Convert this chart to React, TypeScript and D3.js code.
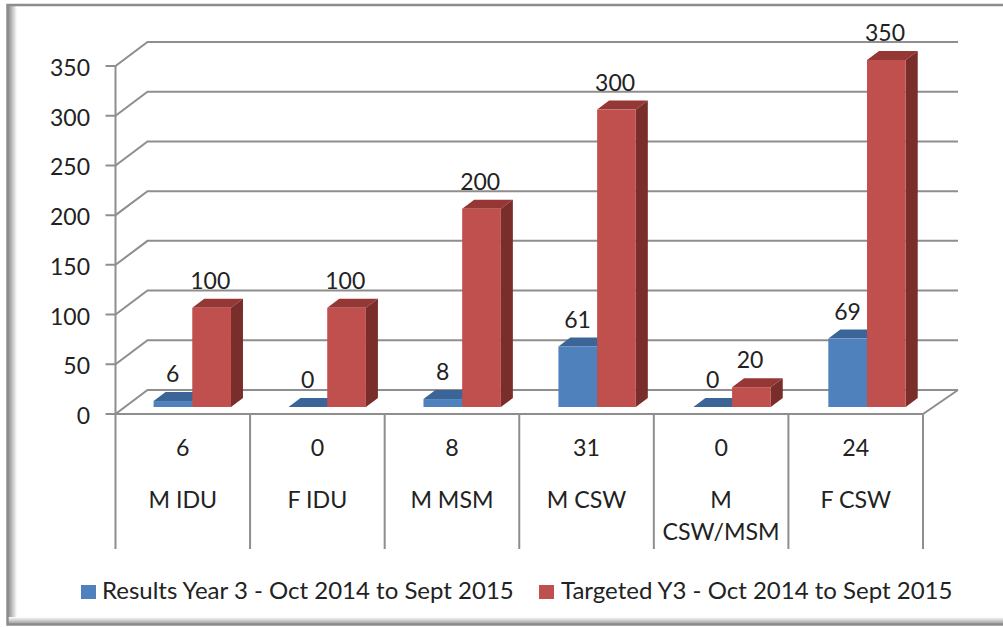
import React, { useRef, useEffect } from "react";
import * as d3 from "d3";

const categories = ["M IDU", "F IDU", "M MSM", "M CSW", "M CSW/MSM", "F CSW"];
const tableValues = ["6", "0", "8", "31", "0", "24"];
const results = [6, 0, 8, 61, 0, 69];
const targets = [100, 100, 200, 300, 20, 350];
const yTicks = [0, 50, 100, 150, 200, 250, 300, 350];
const seriesNames = [
  "Results Year 3 - Oct 2014 to Sept 2015",
  "Targeted Y3 - Oct 2014 to Sept 2015",
];

const W = 1003;
const H = 627;
const FONT = "Lato, 'Open Sans', sans-serif";
const TEXT = "#222222";
const GRID = "#8e8e8e";
const BLUE = { front: "#4f81bd", top: "#3a6596", side: "#315a86" };
const RED = { front: "#c0504d", top: "#953735", side: "#7a2e2c" };

const App = () => {
  const ref = useRef<SVGSVGElement>(null);

  useEffect(() => {
    const svg = d3.select(ref.current);
    svg.selectAll("*").remove();

    const defs = svg.append("defs");
    const leftShade = defs.append("linearGradient").attr("id", "leftShade");
    leftShade.append("stop").attr("offset", 0).attr("stop-color", "#8a8a8a");
    leftShade.append("stop").attr("offset", 1).attr("stop-color", "#ffffff");
    const bottomShade = defs
      .append("linearGradient")
      .attr("id", "bottomShade")
      .attr("x1", 0)
      .attr("x2", 0)
      .attr("y1", 0)
      .attr("y2", 1);
    bottomShade.append("stop").attr("offset", 0).attr("stop-color", "#ffffff");
    bottomShade.append("stop").attr("offset", 1).attr("stop-color", "#9a9a9a");

    // frame
    svg.append("rect").attr("width", W).attr("height", H).attr("fill", "#ffffff");
    svg.append("rect").attr("x", 8).attr("y", 5).attr("width", 9).attr("height", 619).attr("fill", "url(#leftShade)");
    svg.append("rect").attr("x", 8).attr("y", 617).attr("width", 995).attr("height", 7).attr("fill", "url(#bottomShade)");
    svg.append("path")
      .attr("d", `M${W},5H7.5V624.5H${W}`)
      .attr("fill", "none")
      .attr("stroke", "#8c8c8c")
      .attr("stroke-width", 2.5);

    const axisY = d3.scaleLinear().domain([0, 350]).range([414, 66]);
    const barY = d3.scaleLinear().domain([0, 350]).range([407, 60]);
    const x = d3.scaleBand<string>().domain(categories).range([115.5, 923]);
    // the bars stand on the floor, slightly further back than the table
    const barX = d3.scaleBand<string>().domain(categories).range([124.8, 934.5]);
    const depth = { dx: 32, dy: -24 };
    const barDepth = { dx: 12, dy: -9 };
    const x0 = x.range()[0];
    const x1 = x.range()[1];

    // walls
    const grid = svg.append("g").attr("fill", "none").attr("stroke", GRID).attr("stroke-width", 2);
    grid.selectAll("path.line")
      .data(yTicks)
      .join("path")
      .attr("class", "line")
      .attr("d", (t) => `M${x0 - 10},${axisY(t)}H${x0}L${x0 + depth.dx},${axisY(t) + depth.dy}H${x1 + 35}`);
    grid.append("path").attr("d", `M${x0},${axisY(350)}V549`);
    grid.append("path").attr("d", `M${x0},${axisY(0)}H${x1}L${x1 + 35},${axisY(0) + depth.dy}`);
    grid.selectAll("path.sep")
      .data(categories)
      .join("path")
      .attr("class", "sep")
      .attr("d", (c) => `M${(x(c) as number) + x.bandwidth()},${axisY(0)}V549`);

    // y tick labels
    svg.append("g")
      .selectAll("text")
      .data(yTicks)
      .join("text")
      .attr("x", 90)
      .attr("y", (t) => axisY(t) + 10)
      .attr("text-anchor", "end")
      .attr("font-family", FONT)
      .attr("font-size", 23)
      .attr("fill", TEXT)
      .text((t) => t);

    const barW = 38.7;
    const barCenter = (i: number) => (barX(categories[i]) as number) + barX.bandwidth() / 2;
    const drawBars = (values: number[], offset: number, pal: typeof BLUE) => {
      const g = svg.append("g");
      values.forEach((v, i) => {
        const left = barCenter(i) + offset;
        const right = left + barW;
        const top = barY(v);
        const base = barY(0);
        const { dx, dy } = barDepth;
        g.append("path")
          .attr("fill", pal.top)
          .attr("d", `M${left},${top}L${left + dx},${top + dy}H${right + dx}L${right},${top}Z`);
        g.append("path")
          .attr("fill", pal.side)
          .attr("d", `M${right},${top}L${right + dx},${top + dy}V${base + dy}L${right},${base}Z`);
        g.append("rect")
          .attr("x", left)
          .attr("y", top)
          .attr("width", barW)
          .attr("height", base - top)
          .attr("fill", pal.front);
      });
    };
    drawBars(results, -barW, BLUE);
    drawBars(targets, 0, RED);

    // data labels
    const labels = (values: number[], offset: number) =>
      svg.append("g")
        .selectAll("text")
        .data(values)
        .join("text")
        .attr("x", (_, i) => barCenter(i) + offset)
        .attr("y", (v) => barY(v) - 19)
        .attr("text-anchor", "middle")
        .attr("font-family", FONT)
        .attr("font-size", 23)
        .attr("fill", TEXT)
        .text((v) => v);
    labels(results, -19.5);
    labels(targets, 18);

    // data table under the axis
    const table = svg.append("g")
      .attr("text-anchor", "middle")
      .attr("font-family", FONT)
      .attr("font-size", 23.2)
      .attr("fill", TEXT);
    table.selectAll("text.val")
      .data(tableValues)
      .join("text")
      .attr("class", "val")
      .attr("x", (_, i) => (x(categories[i]) as number) + x.bandwidth() / 2)
      .attr("y", 456)
      .text((d) => d);
    categories.forEach((c) => {
      const parts = c === "M CSW/MSM" ? ["M", "CSW/MSM"] : [c];
      parts.forEach((p, j) => {
        table.append("text")
          .attr("x", (x(c) as number) + x.bandwidth() / 2)
          .attr("y", 507.5 + j * 32)
          .text(p);
      });
    });

    // legend
    const legendX = [81, 539];
    const legendTextX = [102, 561];
    const pals = [BLUE, RED];
    seriesNames.forEach((name, i) => {
      svg.append("rect")
        .attr("x", legendX[i])
        .attr("y", 585)
        .attr("width", 15)
        .attr("height", 14)
        .attr("fill", pals[i].front);
      svg.append("text")
        .attr("x", legendTextX[i])
        .attr("y", 599)
        .attr("font-family", FONT)
        .attr("font-size", 24)
        .attr("fill", TEXT)
        .text(name);
    });
  }, []);

  return (
    <svg
      ref={ref}
      width={W}
      height={H}
      style={{ position: "absolute", left: 0, top: 0, display: "block" }}
    />
  );
};

export default App;
